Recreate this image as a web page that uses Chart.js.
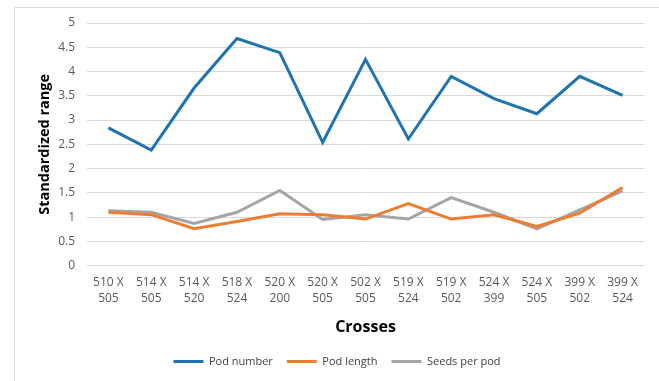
<!DOCTYPE html>
<html>
<head>
<meta charset="utf-8">
<script src="https://cdn.jsdelivr.net/npm/chart.js@4.4.1/dist/chart.umd.min.js"></script>
<style>
  html, body { margin: 0; padding: 0; background: #fff; }
  #wrap { position: relative; width: 659px; height: 381px; }
</style>
</head>
<body>
<div id="wrap"><canvas id="c" width="659" height="381"></canvas></div>
<script>
// Crosses (two-line category labels)
const crosses = [
  ["510 X", "505"], ["514 X", "505"], ["514 X", "520"], ["518 X", "524"],
  ["520 X", "200"], ["520 X", "505"], ["502 X", "505"], ["519 X", "524"],
  ["519 X", "502"], ["524 X", "399"], ["524 X", "505"], ["399 X", "502"],
  ["399 X", "524"]
];

const podNumber  = [2.84, 2.38, 3.66, 4.68, 4.39, 2.54, 4.25, 2.61, 3.90, 3.44, 3.13, 3.90, 3.51];
const podLength  = [1.10, 1.05, 0.76, 0.91, 1.07, 1.05, 0.96, 1.28, 0.96, 1.05, 0.81, 1.08, 1.61];
const seedsPerPod = [1.13, 1.10, 0.87, 1.10, 1.55, 0.95, 1.05, 0.96, 1.40, 1.10, 0.76, 1.15, 1.54];

const yTicks = [0, 0.5, 1, 1.5, 2, 2.5, 3, 3.5, 4, 4.5, 5];

const FONT = "'Open Sans', 'Liberation Sans', sans-serif";

// light outer frame around the chart
const framePlugin = {
  id: 'frame',
  beforeDraw(chart) {
    const ctx = chart.ctx;
    ctx.save();
    ctx.strokeStyle = '#d9d9d9';
    ctx.lineWidth = 1;
    ctx.beginPath();
    ctx.moveTo(14.5, 390);
    ctx.lineTo(14.5, 7.5);
    ctx.lineTo(670, 7.5);
    ctx.stroke();
    ctx.restore();
  }
};

new Chart(document.getElementById('c'), {
  type: 'line',
  data: {
    labels: crosses,
    datasets: [
      { label: 'Pod number', data: podNumber, borderColor: '#1f74b0', backgroundColor: '#1f74b0', borderWidth: 3, pointRadius: 0, tension: 0 },
      { label: 'Pod length', data: podLength, borderColor: '#ed7d31', backgroundColor: '#ed7d31', borderWidth: 3, pointRadius: 0, tension: 0 },
      { label: 'Seeds per pod', data: seedsPerPod, borderColor: '#a5a5a5', backgroundColor: '#a5a5a5', borderWidth: 3, pointRadius: 0, tension: 0 }
    ]
  },
  options: {
    responsive: false,
    animation: false,
    devicePixelRatio: 1,
    layout: { padding: { left: 30, right: 15, top: 23, bottom: 4 } },
    plugins: {
      tooltip: { enabled: false },
      legend: {
        position: 'bottom',
        labels: {
          usePointStyle: true,
          pointStyle: 'line',
          pointStyleWidth: 30,
          color: '#404040',
          font: { family: FONT, size: 11 },
          padding: 14
        }
      }
    },
    scales: {
      x: {
        offset: true,
        grid: { display: false, drawTicks: false },
        border: { display: false },
        ticks: {
          color: '#595959',
          font: { family: FONT, size: 12, lineHeight: 1.34 },
          maxRotation: 0,
          autoSkip: false,
          padding: 9
        },
        title: {
          display: true,
          text: 'Crosses',
          color: '#000',
          font: { family: FONT, size: 16, weight: 'bold' },
          padding: { top: 2, bottom: 5 }
        }
      },
      y: {
        min: 0,
        max: 5,
        afterBuildTicks(scale) { scale.ticks = yTicks.map(v => ({ value: v })); },
        afterFit(scale) { scale.width = 57; },
        grid: { color: '#d9d9d9', lineWidth: 1, drawTicks: false },
        border: { display: false },
        ticks: {
          color: '#595959',
          font: { family: FONT, size: 12 },
          padding: 12,
          callback: v => String(v)
        },
        title: {
          display: true,
          text: 'Standardized range',
          color: '#000',
          font: { family: FONT, size: 14.5, weight: 'bold' },
          padding: { top: 6, bottom: 0 }
        }
      }
    }
  },
  plugins: [framePlugin]
});
</script>
</body>
</html>
